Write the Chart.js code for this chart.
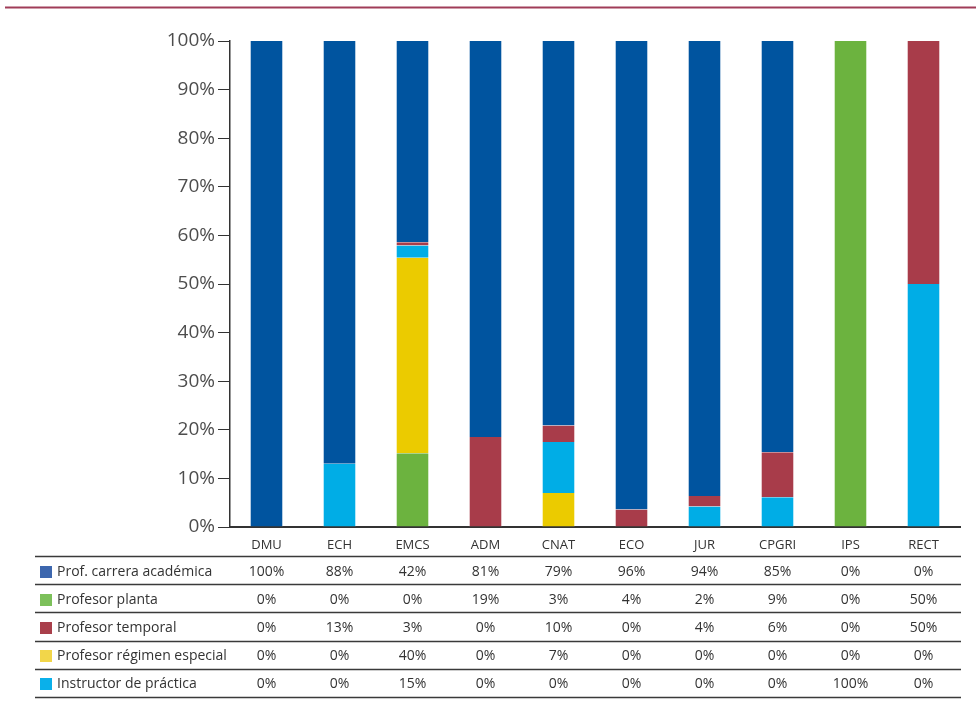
<!DOCTYPE html>
<html>
<head>
<meta charset="utf-8">
<script src="https://cdn.jsdelivr.net/npm/chart.js@4"></script>
<style>
  html, body { margin: 0; padding: 0; background: #fff; }
  #wrap { position: relative; width: 976px; height: 720px; }
</style>
</head>
<body>
<div id="wrap"><canvas id="c" width="976" height="720"></canvas></div>
<script>
// ---- categories ----
const categories = ['DMU', 'ECH', 'EMCS', 'ADM', 'CNAT', 'ECO', 'JUR', 'CPGRI', 'IPS', 'RECT'];

// ---- bar segment values as drawn (percent), bottom to top ----
const barGreen  = [0, 0, 15.2, 0, 0, 0, 0, 0, 100, 0];
const barYellow = [0, 0, 40.2, 0, 7, 0, 0, 0, 0, 0];
const barCyan   = [0, 13, 2.5, 0, 10.5, 0, 4.2, 6.1, 0, 50];
const barRed    = [0, 0, 0.7, 18.5, 3.4, 3.6, 2.2, 9.3, 0, 50];
const barBlue   = [100, 87, 41.4, 81.5, 79.1, 96.4, 93.6, 84.6, 0, 0];

// ---- data table (as printed) ----
const rowLabels = ['Prof. carrera académica', 'Profesor planta', 'Profesor temporal', 'Profesor régimen especial', 'Instructor de práctica'];
const tblCarrera    = [100, 88, 42, 81, 79, 96, 94, 85, 0, 0];
const tblPlanta     = [0, 0, 0, 19, 3, 4, 2, 9, 0, 50];
const tblTemporal   = [0, 13, 3, 0, 10, 0, 4, 6, 0, 50];
const tblRegimen    = [0, 0, 40, 0, 7, 0, 0, 0, 0, 0];
const tblInstructor = [0, 0, 15, 0, 0, 0, 0, 0, 100, 0];

// ---- y-axis ticks ----
const yTicks = [0, 10, 20, 30, 40, 50, 60, 70, 80, 90, 100];

const tableRows = [tblCarrera, tblPlanta, tblTemporal, tblRegimen, tblInstructor];
const swatchColors = ['#3d67ae', '#7cc05a', '#a93f4b', '#f2d64a', '#0ab0ea'];

const FONT = '"Open Sans", "Noto Sans", sans-serif';

const tablePlugin = {
  id: 'tablePlugin',
  afterDraw(chart) {
    const ctx = chart.ctx;
    const x = chart.scales.x;
    ctx.save();
    // top decorative rule
    ctx.strokeStyle = '#a03c58';
    ctx.lineWidth = 2;
    ctx.beginPath();
    ctx.moveTo(5, 7.5);
    ctx.lineTo(976, 7.5);
    ctx.stroke();

    const left = 35, right = 961;
    const top = 556, rowH = 28.2;
    ctx.strokeStyle = '#3a3a3a';
    ctx.lineWidth = 1.5;
    for (let i = 0; i <= tableRows.length; i++) {
      const y = Math.round(top + i * rowH) + 0.5;
      ctx.beginPath();
      ctx.moveTo(left, y);
      ctx.lineTo(right, y);
      ctx.stroke();
    }
    ctx.font = '14px ' + FONT;
    ctx.textBaseline = 'middle';
    for (let r = 0; r < tableRows.length; r++) {
      const cy = top + r * rowH + rowH / 2 + 1.5;
      ctx.fillStyle = swatchColors[r];
      ctx.fillRect(40, Math.round(cy - 6), 12, 12);
      ctx.fillStyle = '#333';
      ctx.textAlign = 'left';
      ctx.fillText(rowLabels[r], 57, cy);
      ctx.textAlign = 'center';
      tableRows[r].forEach((v, i) => {
        ctx.fillText(v + '%', x.getPixelForValue(i), cy);
      });
    }
    ctx.restore();
  }
};

const mk = (label, data, color) => ({
  label, data, backgroundColor: color,
  borderColor: 'rgba(255,255,255,0.35)', borderWidth: { left: 1, right: 1, top: 0, bottom: 0 },
  categoryPercentage: 1.0, barPercentage: 0.46, stack: 's'
});

new Chart(document.getElementById('c'), {
  type: 'bar',
  data: {
    labels: categories,
    datasets: [
      mk('Instructor de práctica', barGreen, '#6cb33f'),
      mk('Profesor régimen especial', barYellow, '#ebcb00'),
      mk('Profesor temporal', barCyan, '#00ade6'),
      mk('Profesor planta', barRed, '#a83c4a'),
      mk('Prof. carrera académica', barBlue, '#00549f')
    ]
  },
  options: {
    responsive: false,
    animation: false,
    events: [],
    layout: { padding: { left: 0, right: 16, top: 41, bottom: 0 } },
    plugins: { legend: { display: false }, tooltip: { enabled: false } },
    scales: {
      x: {
        stacked: true,
        grid: { display: false, drawTicks: false },
        border: { display: true, color: '#333', width: 2 },
        ticks: { color: '#333', font: { family: FONT, size: 13 }, padding: 10, maxRotation: 0, autoSkip: false },
        afterFit(scale) { scale.height = 720 - 527; }
      },
      y: {
        stacked: true,
        min: 0, max: 100,
        afterBuildTicks(scale) { scale.ticks = yTicks.map(v => ({ value: v })); },
        grid: { drawOnChartArea: false, drawTicks: true, tickLength: 12, color: '#333', tickColor: '#333' },
        border: { display: true, color: '#333', width: 1.5 },
        ticks: { color: '#4d4d4d', font: { family: FONT, size: 19 }, padding: 3, callback: v => v + '%' },
        afterFit(scale) { scale.width = 230; }
      }
    }
  },
  plugins: [tablePlugin]
});
</script>
</body>
</html>
